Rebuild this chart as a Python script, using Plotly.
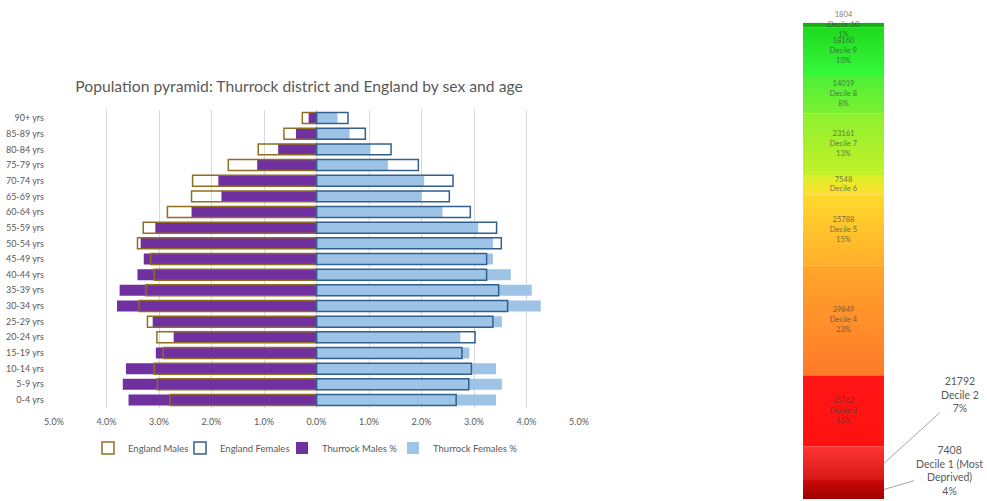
import plotly.graph_objects as go

# ---------------- data ----------------
age_groups = ["0-4 yrs", "5-9 yrs", "10-14 yrs", "15-19 yrs", "20-24 yrs", "25-29 yrs",
              "30-34 yrs", "35-39 yrs", "40-44 yrs", "45-49 yrs", "50-54 yrs", "55-59 yrs",
              "60-64 yrs", "65-69 yrs", "70-74 yrs", "75-79 yrs", "80-84 yrs", "85-89 yrs",
              "90+ yrs"]

england_males = [2.79, 3.03, 3.09, 2.92, 3.04, 3.22, 3.38, 3.25, 3.09, 3.16, 3.41, 3.30,
                 2.84, 2.38, 2.36, 1.68, 1.11, 0.62, 0.27]
england_females = [2.66, 2.90, 2.95, 2.77, 3.02, 3.36, 3.64, 3.47, 3.24, 3.24, 3.52, 3.43,
                   2.93, 2.53, 2.60, 1.94, 1.42, 0.93, 0.60]
thurrock_males = [3.58, 3.69, 3.63, 3.06, 2.72, 3.12, 3.80, 3.75, 3.41, 3.29, 3.35, 3.07,
                  2.38, 1.81, 1.87, 1.13, 0.73, 0.39, 0.15]
thurrock_females = [3.42, 3.53, 3.42, 2.91, 2.74, 3.53, 4.27, 4.10, 3.70, 3.36, 3.36, 3.08,
                    2.40, 2.00, 2.05, 1.36, 1.03, 0.63, 0.40]

tick_values = [-5, -4, -3, -2, -1, 0, 1, 2, 3, 4, 5]
tick_labels = ["5.0%", "4.0%", "3.0%", "2.0%", "1.0%", "0.0%", "1.0%", "2.0%", "3.0%", "4.0%", "5.0%"]

# deprivation deciles (bottom = Decile 1)
decile_names = ["Decile 1 (Most<br>Deprived)", "Decile 2", "Decile 3", "Decile 4", "Decile 5",
                "Decile 6", "Decile 7", "Decile 8", "Decile 9", "Decile 10"]
decile_counts = [7408, 21792, 25762, 39849, 25788, 7548, 23161, 14019, 18160, 1804]
decile_share = [4, 7, 15, 23, 15, 4, 13, 8, 10, 1]
decile_share_labels = ["4%", "7%", "15%", "23%", "15%", "", "13%", "8%", "10%", "1%"]
decile_bottom_colors = ["#A00000", "#D81818", "#FF1010", "#FF7A2A", "#FFAE2C",
                        "#FFE030", "#C4F028", "#7CF032", "#36F83A", "#18B818"]
decile_top_colors = ["#CC0A0A", "#FF3434", "#FF1616", "#FFA62A", "#FFDA2C",
                     "#D8F028", "#8CF030", "#4AF038", "#1FDA20", "#16A816"]

# ---------------- styling ----------------
FONT = "Lato"
GREY = "#595959"
PURPLE = "#7030A0"
LIGHT_BLUE = "#9DC3E6"
BROWN = "#8F6E20"
DARK_BLUE = "#335F8C"

fig = go.Figure()

neg = lambda arr: [-v for v in arr]

fig.add_trace(go.Bar(y=age_groups, x=neg(thurrock_males), orientation="h", name="Thurrock Males %",
                     marker=dict(color=PURPLE, line=dict(width=0)), width=0.7,
                     legend="legend3", xaxis="x", yaxis="y"))
fig.add_trace(go.Bar(y=age_groups, x=thurrock_females, orientation="h", name="Thurrock Females %",
                     marker=dict(color=LIGHT_BLUE, line=dict(width=0)), width=0.7,
                     legend="legend4", xaxis="x", yaxis="y"))
fig.add_trace(go.Bar(y=age_groups, x=neg(england_males), orientation="h", name="England Males",
                     marker=dict(color="rgba(255,255,255,0)", line=dict(color=BROWN, width=1.5)),
                     width=0.7, legend="legend", xaxis="x", yaxis="y"))
fig.add_trace(go.Bar(y=age_groups, x=england_females, orientation="h", name="England Females",
                     marker=dict(color="rgba(255,255,255,0)", line=dict(color=DARK_BLUE, width=1.5)),
                     width=0.7, legend="legend2", xaxis="x", yaxis="y"))

# ---------------- deprivation bar ----------------
cum = 0
centers = []
for i, share in enumerate(decile_share):
    b, t = cum, cum + share
    fig.add_trace(go.Scatter(
        x=[0, 1, 1, 0, 0], y=[b, b, t, t, b], mode="none", fill="toself",
        fillgradient=dict(type="vertical",
                          colorscale=[[0, decile_bottom_colors[i]], [1, decile_top_colors[i]]]),
        showlegend=False, hoverinfo="skip", xaxis="x2", yaxis="y2"))
    centers.append((b + t) / 2)
    cum = t

inner_idx = list(range(2, 10))
inner_text = []
for i in inner_idx:
    parts = [str(decile_counts[i]), decile_names[i]]
    if decile_share_labels[i]:
        parts.append(decile_share_labels[i])
    inner_text.append("<br>".join(parts))
fig.add_trace(go.Scatter(
    x=[0.5] * len(inner_idx), y=[centers[i] for i in inner_idx], mode="text",
    text=inner_text, textposition="middle center", cliponaxis=False,
    textfont=dict(family=FONT, size=7.6, color="rgba(60,60,60,0.7)"),
    showlegend=False, hoverinfo="skip", xaxis="x2", yaxis="y2"))

outer = [(1, 76, -69), (0, 65, -19)]
for i, ax, ay in outer:
    fig.add_annotation(
        x=1, y=centers[i], xref="x2", yref="y2",
        text=f"{decile_counts[i]}<br>{decile_names[i]}<br>{decile_share_labels[i]}",
        showarrow=True, arrowhead=0, arrowwidth=1, arrowcolor="#A6A6A6",
        ax=ax, ay=ay, axref="pixel", ayref="pixel",
        font=dict(family=FONT, size=10.5, color=GREY), align="center")

legend_style = dict(orientation="h", xanchor="left", y=1 - 448 / 501, yanchor="middle",
                    font=dict(family=FONT, size=9.5, color=GREY), itemwidth=30,
                    bgcolor="rgba(0,0,0,0)")

fig.update_layout(
    width=987, height=501,
    margin=dict(l=0, r=0, t=0, b=0),
    paper_bgcolor="white", plot_bgcolor="white",
    barmode="overlay", bargap=0.3,
    font=dict(family=FONT, color=GREY, size=9),
    title=dict(text="Population pyramid: Thurrock district and England by sex and age",
               x=299 / 987, xanchor="center", y=1 - 87 / 501, yanchor="middle",
               font=dict(family=FONT, size=15.7, color=GREY)),
    xaxis=dict(domain=[54 / 987, 579 / 987], range=[-5, 5], tickvals=tick_values,
               ticktext=tick_labels, showgrid=True, gridcolor="#D9D9D9", gridwidth=1,
               zeroline=True, zerolinecolor="#D9D9D9", zerolinewidth=1,
               showline=False, ticks="", ticklabelstandoff=7, automargin=False,
               tickfont=dict(family=FONT, size=9, color=GREY), fixedrange=True),
    yaxis=dict(domain=[0.186, 0.78], type="category", categoryorder="array",
               categoryarray=age_groups, range=[-0.5, 18.5], showgrid=False,
               showline=False, ticks="", ticklabelstandoff=9, automargin=False,
               tickfont=dict(family=FONT, size=9, color=GREY), fixedrange=True),
    xaxis2=dict(domain=[803 / 987, 884 / 987], range=[0, 1], visible=False, anchor="y2",
                fixedrange=True, automargin=False),
    yaxis2=dict(domain=[1 - 499 / 501, 1 - 22.7 / 501], range=[0, 100], visible=False,
                anchor="x2", fixedrange=True, automargin=False),
    legend=dict(legend_style, x=88 / 987),
    legend2=dict(legend_style, x=180 / 987),
    legend3=dict(legend_style, x=282 / 987),
    legend4=dict(legend_style, x=393 / 987),
    showlegend=True,
)

fig.write_html("out.html")
